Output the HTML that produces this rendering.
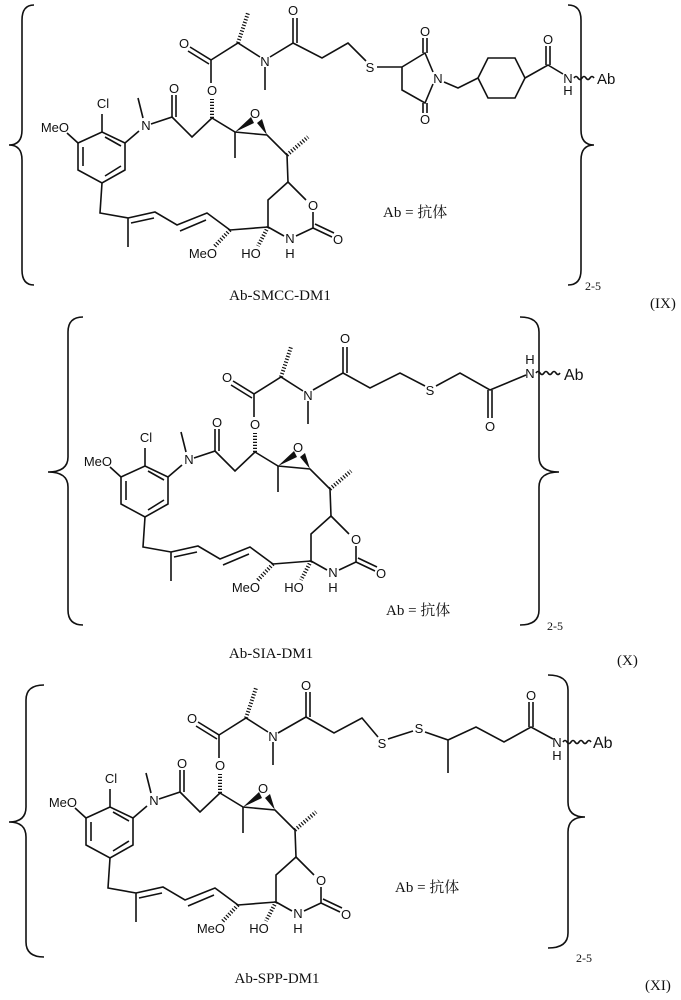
<!DOCTYPE html>
<html><head><meta charset="utf-8">
<style>
html,body{margin:0;padding:0;background:#fff;}
svg{display:block;}
.a{font-family:"Liberation Sans",Arial,sans-serif;font-size:13px;fill:#111;}
.s{font-family:"Liberation Serif","Noto Serif CJK SC",serif;font-size:15px;fill:#111;}
.z{font-family:"Liberation Serif","Noto Serif CJK SC","Noto Sans CJK SC",serif;font-size:15px;fill:#111;}
</style></head>
<body>
<svg width="681" height="1000" viewBox="0 0 681 1000" xmlns="http://www.w3.org/2000/svg">
<defs>
<g id="core" stroke="#111" stroke-width="1.6" fill="none">
  <path d="M78,143 L102,132 L125,143 L125,170 L102,183 L78,170 Z"/>
  <path d="M83,147 L83,166 M105,137 L121,146 M121,166 L105,176"/>
  <path d="M102,132 L102,114"/>
  <path d="M78,143 L67,133"/>
  <path d="M125,143 L139,131"/>
  <path d="M143,118 L138,98"/>
  <path d="M151,124 L172,117 L172,95 M176,117 L176,95"/>
  <path d="M172,117 L192,137 L212,118"/>
  <path d="M212,118 L212,99" stroke-width="4" stroke-dasharray="1.2 1.8"/>
  <path d="M211,83 L211,60 L190,47 M209,64 L188,51"/>
  <path d="M211,60 L238,43 L260,57"/>
  <path d="M238,43 L248,13" stroke-width="4" stroke-dasharray="1.2 1.8"/>
  <path d="M265,67 L265,90"/>
  <path d="M212,118 L235,132 L267,135 L287,155 L288,182"/>
  <path d="M235,132 L235,158"/>
  <path d="M287,155 L308,137" stroke-width="4" stroke-dasharray="1.2 1.8"/>
  <path d="M288,182 L268,200 L268,227 L284,236 M296,236 L313,228 L313,212 M306,200 L288,182"/>
  <path d="M313,228 L332,237 M315,224 L334,233"/>
  <path d="M268,227 L258,246" stroke-width="4" stroke-dasharray="1.2 1.8"/>
  <path d="M268,227 L230,230"/>
  <path d="M230,230 L214,247" stroke-width="4" stroke-dasharray="1.2 1.8"/>
  <path d="M102,183 L100,213 L128,218 L128,247 M128,218 L155,212 L177,225 L207,213 L230,230"/>
  <path d="M131,223 L154,218 M180,231 L206,220"/>
</g>
<g id="coretext">
  <polygon points="235,132 251,117 254,123" fill="#111"/>
  <polygon points="267,135 257,123 262,119" fill="#111"/>
  <text class="a" x="103" y="108" text-anchor="middle">Cl</text>
  <text class="a" x="69" y="132" text-anchor="end">MeO</text>
  <text class="a" x="146" y="130" text-anchor="middle">N</text>
  <text class="a" x="174" y="93" text-anchor="middle">O</text>
  <text class="a" x="212" y="95" text-anchor="middle">O</text>
  <text class="a" x="184" y="48" text-anchor="middle">O</text>
  <text class="a" x="265" y="66" text-anchor="middle">N</text>
  <text class="a" x="255" y="118" text-anchor="middle">O</text>
  <text class="a" x="313" y="210" text-anchor="middle">O</text>
  <text class="a" x="338" y="244" text-anchor="middle">O</text>
  <text class="a" x="290" y="243" text-anchor="middle">N</text>
  <text class="a" x="290" y="258" text-anchor="middle">H</text>
  <text class="a" x="251" y="258" text-anchor="middle">HO</text>
  <text class="a" x="217" y="258" text-anchor="end">MeO</text>
</g>
</defs>

<g stroke="#111" stroke-width="1.6" fill="none">
  <path d="M34,5 Q22,5 22,20 L22,130 Q22,145 9,145 Q22,145 22,160 L22,270 Q22,285 34,285"/>
  <path d="M568,5 Q581,5 581,20 L581,130 Q581,145 594,145 Q581,145 581,160 L581,270 Q581,285 568,285"/>
</g>
<use href="#core"/><use href="#coretext"/>
<g stroke="#111" stroke-width="1.6" fill="none">
  <path d="M270,57 L293,43 L293,18 M297,43 L297,18"/>
  <path d="M293,43 L322,58 L348,43 L366,61"/>
  <path d="M377,67 L402,67 L425,53 L433,72 M433,84 L425,103 L402,90 L402,67"/>
  <path d="M423,53 L423,38 M427,53 L427,38"/>
  <path d="M423,103 L423,113 M427,103 L427,113"/>
  <path d="M444,82 L458,88 L478,78 L488,58 L515,58 L525,78 L515,98 L488,98 L478,78"/>
  <path d="M525,78 L548,65 L563,74 M546,65 L546,46 M550,65 L550,46"/>
  <path d="M574,78 q2,-3 4,0 q2,3 4,0 q2,-3 4,0 q2,3 4,0 q2,-3 4,0"/>
</g>
<text class="a" x="293" y="15" text-anchor="middle">O</text>
<text class="a" x="370" y="72" text-anchor="middle">S</text>
<text class="a" x="425" y="36" text-anchor="middle">O</text>
<text class="a" x="425" y="124" text-anchor="middle">O</text>
<text class="a" x="438" y="83" text-anchor="middle">N</text>
<text class="a" x="548" y="44" text-anchor="middle">O</text>
<text class="a" x="568" y="83" text-anchor="middle">N</text>
<text class="a" x="568" y="95" text-anchor="middle">H</text>
<text class="a" x="597" y="84" style="font-size:15px">Ab</text>
<text class="z" x="383" y="217">Ab = 抗体</text>
<text class="s" x="585" y="290" style="font-size:12px">2-5</text>
<text class="s" x="280" y="300" text-anchor="middle">Ab-SMCC-DM1</text>
<text class="s" x="650" y="308">(IX)</text>

<g stroke="#111" stroke-width="1.6" fill="none">
  <path d="M83,317 Q68,317 68,332 L68,457 Q68,472 48,472 Q68,472 68,487 L68,610 Q68,625 83,625"/>
  <path d="M520,317 Q539,317 539,332 L539,457 Q539,472 559,472 Q539,472 539,487 L539,610 Q539,625 520,625"/>
</g>
<g transform="translate(43,334)"><use href="#core"/><use href="#coretext"/></g>
<g stroke="#111" stroke-width="1.6" fill="none">
  <path d="M313,390 L343,373 L343,347 M347,373 L347,347"/>
  <path d="M343,373 L370,388 L400,373 L425,386"/>
  <path d="M436,386 L460,373 L490,390 L526,375"/>
  <path d="M488,390 L488,418 M492,390 L492,418"/>
  <path d="M536,373 q2,-3 4,0 q2,3 4,0 q2,-3 4,0 q2,3 4,0 q2,-3 4,0 q2,3 4,0"/>
</g>
<text class="a" x="345" y="343" text-anchor="middle">O</text>
<text class="a" x="430" y="395" text-anchor="middle">S</text>
<text class="a" x="490" y="431" text-anchor="middle">O</text>
<text class="a" x="530" y="378" text-anchor="middle">N</text>
<text class="a" x="530" y="364" text-anchor="middle">H</text>
<text class="a" x="564" y="380" style="font-size:16px">Ab</text>
<text class="z" x="386" y="615">Ab = 抗体</text>
<text class="s" x="547" y="630" style="font-size:12px">2-5</text>
<text class="s" x="271" y="658" text-anchor="middle">Ab-SIA-DM1</text>
<text class="s" x="617" y="665">(X)</text>

<g stroke="#111" stroke-width="1.6" fill="none">
  <path d="M44,685 Q26,685 26,700 L26,807 Q26,822 9,822 Q26,822 26,837 L26,942 Q26,957 44,957"/>
  <path d="M548,675 Q568,675 568,690 L568,802 Q568,817 585,817 Q568,817 568,832 L568,933 Q568,948 548,948"/>
</g>
<g transform="translate(8,675)"><use href="#core"/><use href="#coretext"/></g>
<g stroke="#111" stroke-width="1.6" fill="none">
  <path d="M278,733 L306,717 L306,692 M310,717 L310,692"/>
  <path d="M306,717 L334,733 L362,718 L378,737"/>
  <path d="M388,739 L413,731"/>
  <path d="M425,732 L448,740 L448,773 M448,740 L476,727 L504,742 L531,727 L553,739"/>
  <path d="M529,727 L529,702 M533,727 L533,702"/>
  <path d="M563,742 q2,-3 4,0 q2,3 4,0 q2,-3 4,0 q2,3 4,0 q2,-3 4,0 q2,3 4,0 q2,-3 4,0"/>
</g>
<text class="a" x="306" y="690" text-anchor="middle">O</text>
<text class="a" x="382" y="748" text-anchor="middle">S</text>
<text class="a" x="419" y="733" text-anchor="middle">S</text>
<text class="a" x="531" y="700" text-anchor="middle">O</text>
<text class="a" x="557" y="747" text-anchor="middle">N</text>
<text class="a" x="557" y="760" text-anchor="middle">H</text>
<text class="a" x="593" y="748" style="font-size:16px">Ab</text>
<text class="z" x="395" y="892">Ab = 抗体</text>
<text class="s" x="576" y="962" style="font-size:12px">2-5</text>
<text class="s" x="277" y="983" text-anchor="middle">Ab-SPP-DM1</text>
<text class="s" x="645" y="990">(XI)</text>
</svg>
</body></html>
